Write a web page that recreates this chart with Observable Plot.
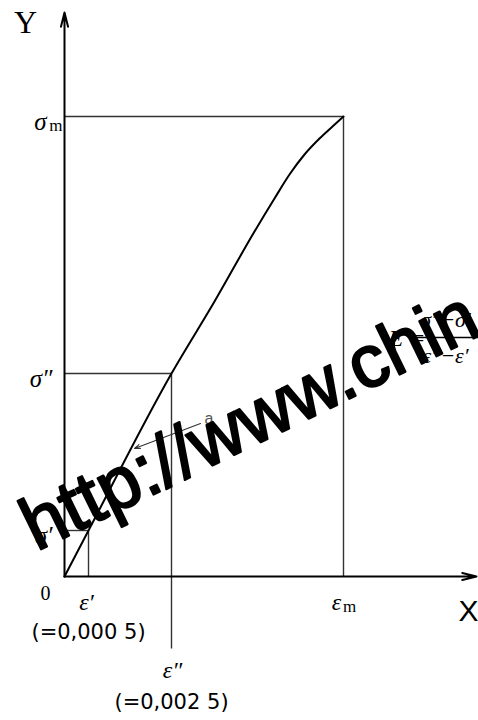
<!DOCTYPE html>
<html>
<head>
<meta charset="utf-8">
<script src="https://cdn.jsdelivr.net/npm/d3@7"></script>
<script src="https://cdn.jsdelivr.net/npm/@observablehq/plot@0.6"></script>
<style>
  html, body { margin: 0; padding: 0; background: #fff; }
  #chart { width: 478px; height: 720px; overflow: hidden; }
</style>
</head>
<body>
<div id="chart"></div>
<script>
// ---- data (diagram units) ----
const strainNames = ["ε′", "ε″", "ε"];
const strainValues = [24, 107, 279];
const strainNotes = ["(=0,000 5)", "(=0,002 5)", ""];
const stressNames = ["σ′", "σ″", "σ"];
const stressValues = [46, 203, 460];
const curveStrain = [0, 24, 107, 150, 190, 210, 225, 240, 255, 268, 279];
const curveStress = [0, 46, 203, 275, 345, 378, 402, 422, 438, 450, 460];
const watermarkText = "http://www.chin";

// ---- derived tables ----
const curve = curveStrain.map((x, i) => ({x, y: curveStress[i]}));
const points = strainValues.map((x, i) => ({x, y: stressValues[i], xs: strainNames[i], ys: stressNames[i], note: strainNotes[i]}));
const [p1, p2, pm] = points;
const xMax = 412, yMax = 564, yMin = -144;
const leaderDepth = -72;   // drop line below axis for ε″

const serif = "'Liberation Serif', 'DejaVu Serif', serif";
const sans = "'Liberation Sans', Arial, sans-serif";
const guide = "#333";
const T = (extra) => ({fill: "#000", ...extra});

const chart = Plot.plot({
  width: 478,
  height: 720,
  marginLeft: 64,
  marginRight: 2,
  marginTop: 12,
  marginBottom: 0,
  x: {domain: [0, xMax], axis: null},
  y: {domain: [yMin, yMax], axis: null},
  style: {background: "white", overflow: "visible"},
  marks: [
    // horizontal guide lines from the Y axis to the curve
    Plot.link(points, {x1: 0, y1: "y", x2: "x", y2: "y", stroke: guide, strokeWidth: 1.4}),
    // vertical guide lines from the curve down to the X axis (ε″ continues below)
    Plot.link([p1, pm], {x1: "x", y1: "y", x2: "x", y2: 0, stroke: guide, strokeWidth: 1.4}),
    Plot.link([p2], {x1: "x", y1: "y", x2: "x", y2: leaderDepth, stroke: guide, strokeWidth: 1.4}),
    // stress-strain curve
    Plot.line(curve, {x: "x", y: "y", curve: "monotone-x", stroke: "#000", strokeWidth: 2}),
    // axes with arrowheads
    Plot.arrow([{x1: 0, y1: 0, x2: 0, y2: yMax}], {x1: "x1", y1: "y1", x2: "x2", y2: "y2", stroke: "#000", strokeWidth: 2, headLength: 11, headAngle: 28, insetEnd: 0}),
    Plot.arrow([{x1: 0, y1: 0, x2: xMax, y2: 0}], {x1: "x1", y1: "y1", x2: "x2", y2: "y2", stroke: "#000", strokeWidth: 2, headLength: 11, headAngle: 28, insetEnd: 0}),
    // arrow "a" pointing at the linear part
    Plot.arrow([{x1: 136, y1: 153, x2: 70, y2: 128}], {x1: "x1", y1: "y1", x2: "x2", y2: "y2", stroke: "#333", strokeWidth: 1.1, headLength: 8, headAngle: 40}),
    Plot.text(["a"], {x: 140, y: 158, text: d => d, fontFamily: sans, fontSize: 16, fill: "#555", textAnchor: "start"}),
    // axis titles
    Plot.text(["Y"], {x: 0, y: yMax, text: d => d, dx: -39, dy: 10, fontFamily: serif, fontSize: 32, fill: "#000"}),
    Plot.text(["X"], {x: xMax, y: 0, text: d => d, dx: -8, dy: 35, fontFamily: sans, fontSize: 30, fill: "#000"}),
    Plot.text(["0"], {x: 0, y: 0, text: d => d, dx: -19, dy: 17, fontFamily: serif, fontSize: 20, fill: "#000"}),
    // stress labels on the Y axis
    Plot.text([p1, p2], {x: 0, y: "y", text: "ys", textAnchor: "end", dx: -12, dy: 5, ...T({fontFamily: serif, fontStyle: "italic", fontSize: 25})}),
    Plot.text([pm], {x: 0, y: "y", text: "ys", textAnchor: "end", dx: -18, dy: 5, ...T({fontFamily: serif, fontStyle: "italic", fontSize: 25})}),
    Plot.text([pm], {x: 0, y: "y", text: () => "m", textAnchor: "end", dx: -2, dy: 9, ...T({fontFamily: serif, fontSize: 17})}),
    // strain labels below the X axis
    Plot.text([p1], {x: "x", y: 0, text: "xs", dx: -2, dy: 26, ...T({fontFamily: serif, fontStyle: "italic", fontSize: 24})}),
    Plot.text([p2], {x: "x", y: 0, text: "xs", dx: 1, dy: 94, ...T({fontFamily: serif, fontStyle: "italic", fontSize: 24})}),
    Plot.text([pm], {x: "x", y: 0, text: "xs", dx: -7, dy: 26, ...T({fontFamily: serif, fontStyle: "italic", fontSize: 24})}),
    Plot.text([pm], {x: "x", y: 0, text: () => "m", dx: 6, dy: 30, ...T({fontFamily: serif, fontSize: 17})}),
    Plot.text([p1], {x: "x", y: 0, text: "note", dy: 56, ...T({fontFamily: "'DejaVu Sans', sans-serif", fontSize: 21})}),
    Plot.text([p2], {x: "x", y: 0, text: "note", dy: 126, ...T({fontFamily: "'DejaVu Sans', sans-serif", fontSize: 21})}),
    // formula E = (σ″−σ′)/(ε″−ε′)
    Plot.text(["E ="], {x: 324, y: 238, text: d => d, textAnchor: "start", ...T({fontFamily: serif, fontStyle: "italic", fontSize: 24})}),
    Plot.text(["σ″−σ′"], {x: 381, y: 257, text: d => d, ...T({fontFamily: serif, fontStyle: "italic", fontSize: 22})}),
    Plot.ruleY([239], {x1: 349, x2: xMax + 2, stroke: "#000", strokeWidth: 1.5}),
    Plot.text(["ε″−ε′"], {x: 381, y: 221, text: d => d, ...T({fontFamily: serif, fontStyle: "italic", fontSize: 22})}),
    // watermark
    Plot.text([watermarkText], {x: -28, y: 25, text: d => d, rotate: -26, textAnchor: "start", lineAnchor: "bottom", fontFamily: sans, fontSize: 74, fill: "#000", stroke: "#000", strokeWidth: 2.2})
  ]
});
document.getElementById("chart").appendChild(chart);
</script>
</body>
</html>
